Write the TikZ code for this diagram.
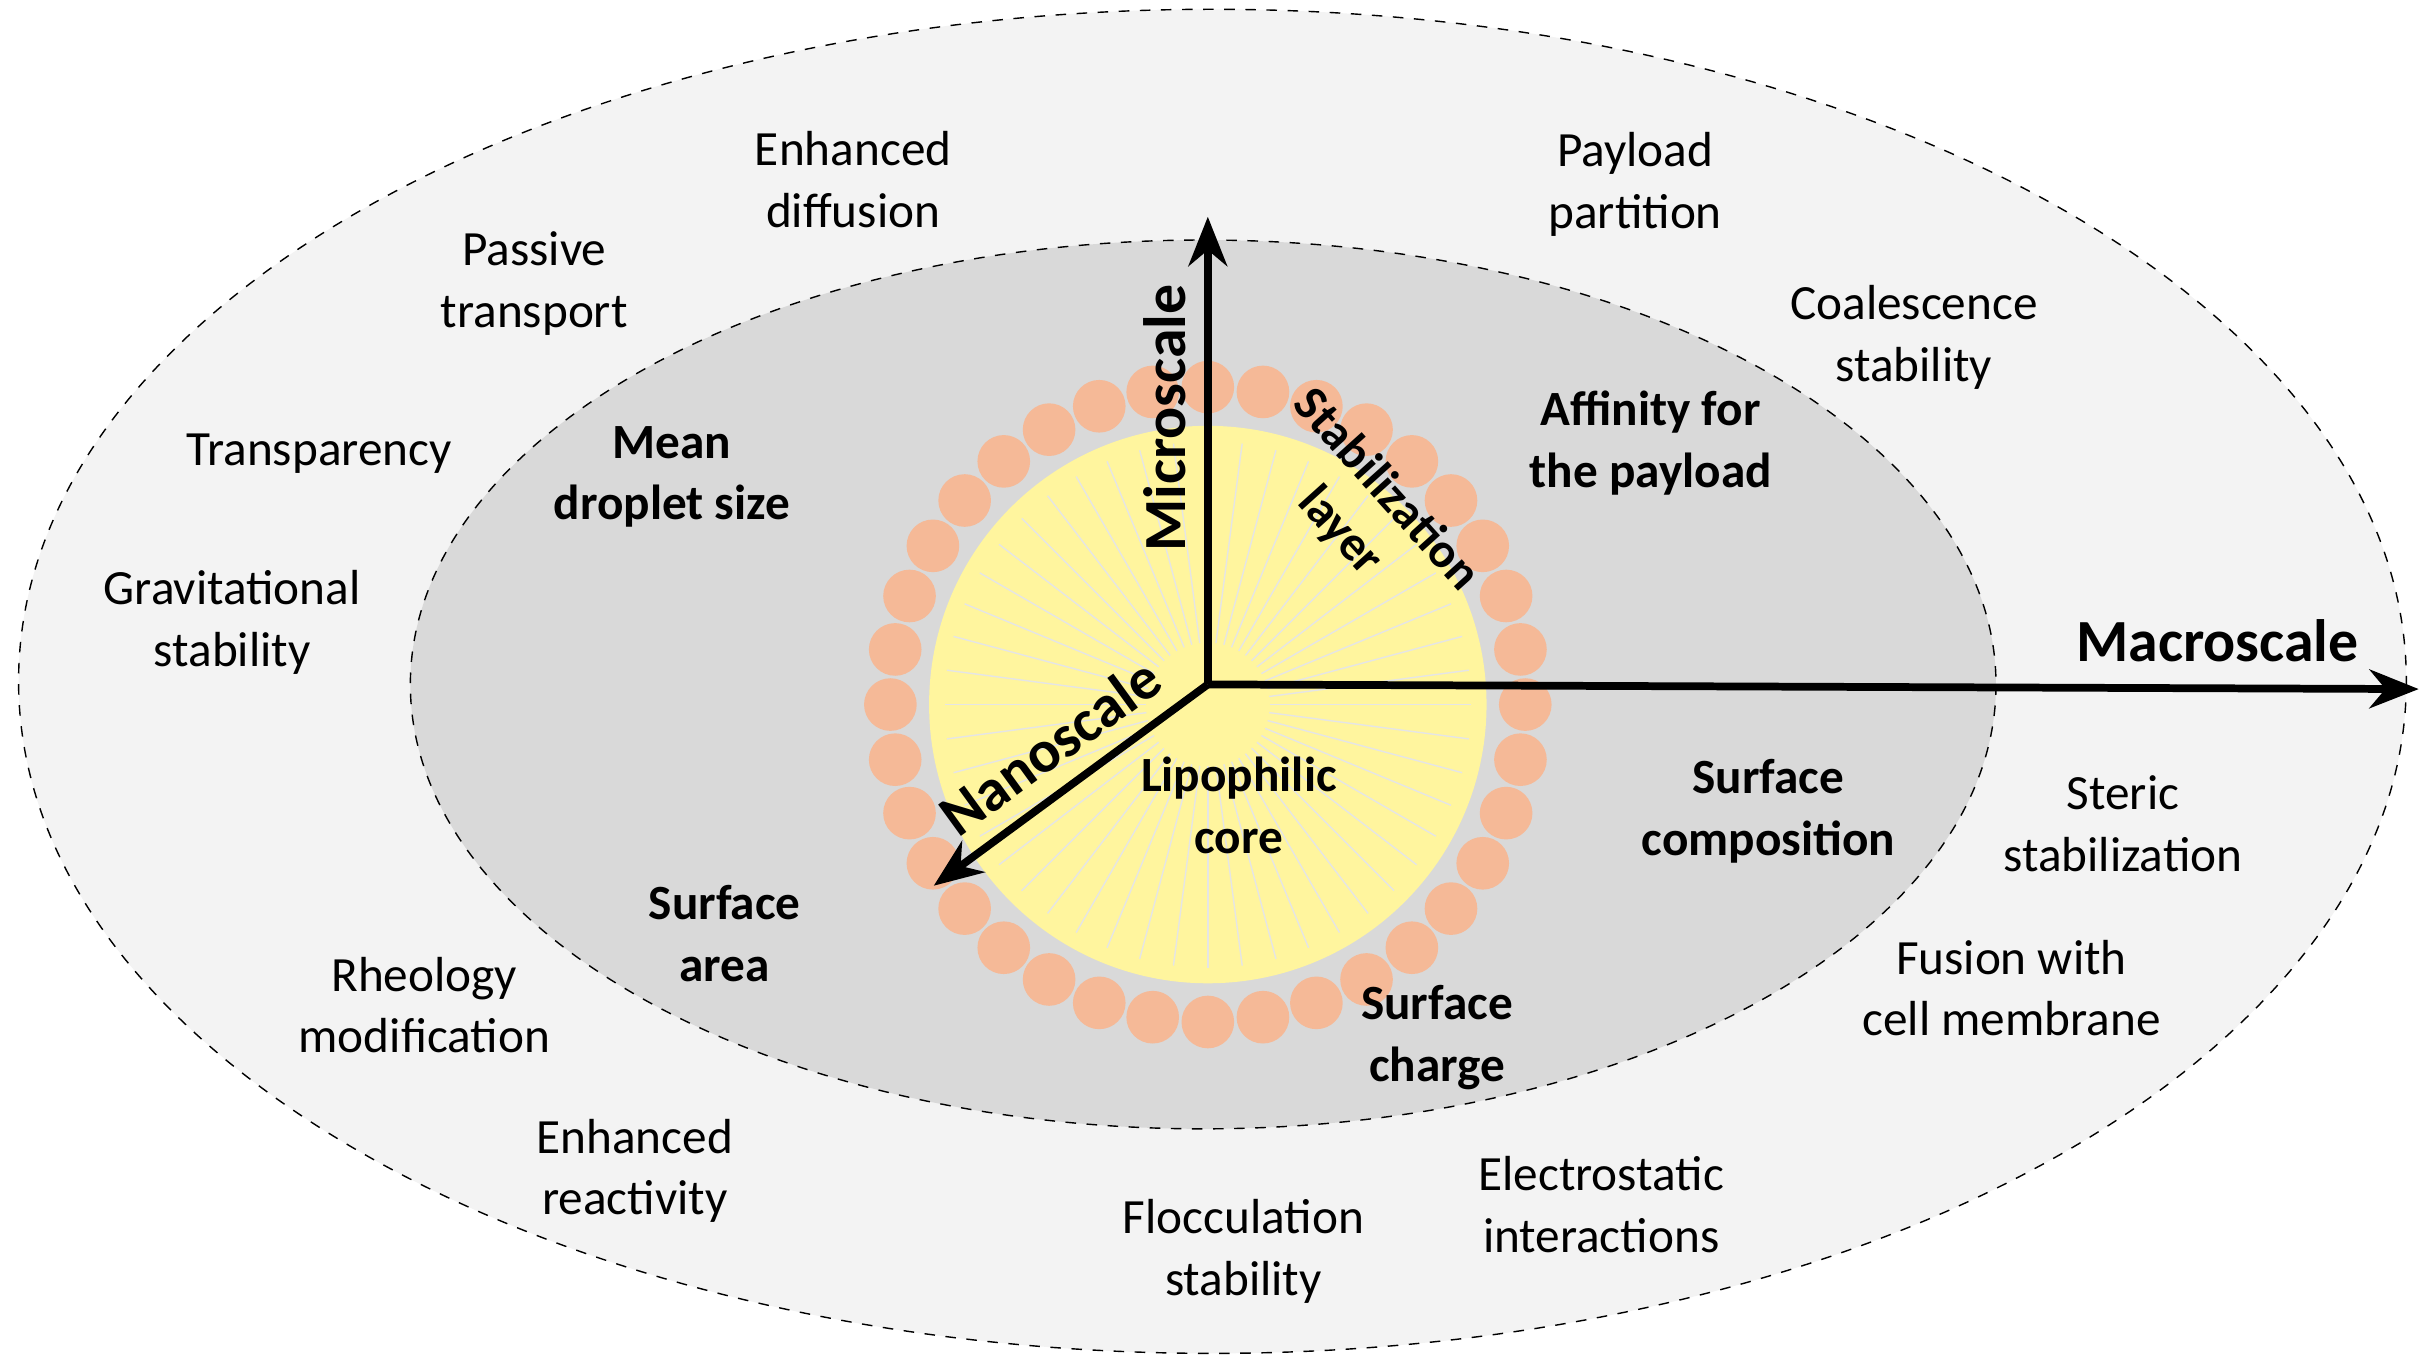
\documentclass[tikz,border=0pt]{standalone}
\usepackage{fontspec}
\setmainfont{Carlito}
\usetikzlibrary{arrows.meta}
\definecolor{outerfill}{HTML}{F3F3F3}
\definecolor{innerfill}{HTML}{D9D9D9}
\definecolor{corefill}{HTML}{FFF59E}
\definecolor{beadfill}{HTML}{F5B997}
\begin{document}
\begin{tikzpicture}[
            x=0.01548cm, y=-0.01548cm,
            axis/.style={line width=2.2pt, -{Stealth[length=14pt,width=11pt]}},
            zone/.style={dashed, thin},
            prop/.style={align=center, font=\fontsize{14}{17.5}\selectfont},
            key/.style={prop, font=\fontsize{14}{17.5}\selectfont\bfseries},
            scale label/.style={font=\fontsize{17}{20}\selectfont\bfseries},
            bead/.style={fill=beadfill, draw=none}
            ]

            \useasboundingbox (0,0) rectangle (1568,883);

            % zones
            \draw[zone, fill=outerfill] (783,440) ellipse [x radius=771, y radius=434];
            \draw[zone, fill=innerfill] (777,442) ellipse [x radius=512, y radius=287];

            % droplet
            \foreach \a in {0,10,...,350}
                \fill[bead] (780,455) ++(\a:205) circle [radius=17];
            \fill[corefill] (780,455) circle [radius=180];
            \foreach \a in {0,7.5,...,352.5}
                \draw[white!80!gray, thin] (780,455) ++(\a:40) -- ++(\a:130);

            % axis
            \coordinate (origin) at (780,442);
            \coordinate (micro) at (780,140);
            \coordinate (macro) at (1562,445);
            \coordinate (nano) at (603,572);
            \draw[axis] (origin) -- (micro);
            \draw[axis] (origin) -- (macro);
            \draw[axis] (origin) -- (nano);
            \node[scale label, rotate=90] (microlbl) at (752,270) {Microscale};
            \node[scale label] (macrolbl) at (1432,414) {Macroscale};
            \node[scale label, rotate=36] (nanolbl) at (678,482) {Nanoscale};

            % droplet labels
            \node[key, rotate=-48] (layer) at (880,330) {Stabilization\\layer};
            \node[key] (core) at (800,520) {Lipophilic\\core};

            % inner properties
            \node[key] (size) at (434,308) {Mean\\droplet size};
            \node[key] (affinity) at (1066,286) {Affinity for\\the payload};
            \node[key] (composition) at (1142,524) {Surface\\composition};
            \node[key] (area) at (468,603) {Surface\\area};
            \node[key] (charge) at (928,670) {Surface\\charge};

            % outer properties
            \node[prop] (diffusion) at (551,116) {Enhanced\\diffusion};
            \node[prop] (passive) at (345,183) {Passive\\transport};
            \node[prop] (transp) at (206,293) {Transparency};
            \node[prop] (gravit) at (150,402) {Gravitational\\stability};
            \node[prop] (payload) at (1056,119) {Payload\\partition};
            \node[prop] (coal) at (1236,218) {Coalescence\\stability};
            \node[prop] (steric) at (1371,532) {Steric\\stabilization};
            \node[prop] (fusion) at (1299,638) {Fusion with\\cell membrane};
            \node[prop] (rheo) at (274,649) {Rheology\\modification};
            \node[prop] (react) at (410,756) {Enhanced\\reactivity};
            \node[prop] (floc) at (803,808) {Flocculation\\stability};
            \node[prop] (electro) at (1034,778) {Electrostatic\\interactions};

        \end{tikzpicture}
\end{document}
